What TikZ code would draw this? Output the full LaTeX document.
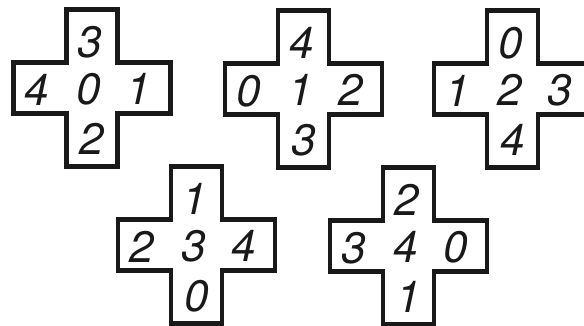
\documentclass[tikz,border=0pt]{standalone}
\usepackage{fontspec}
\setmainfont{TeX Gyre Heros}

\tikzstyle{crossline} = [
line width=4.5pt,
draw=black!90,
line join=miter
]
\tikzstyle{digit} = [
inner sep=0pt,
font=\fontsize{44}{44}\selectfont\itshape,
text=black!90
]

\begin{document}
\begin{tikzpicture}[
x=1pt,
y=-1pt
]
\useasboundingbox (0,0) rectangle (584,325);

% Crosses
\foreach \cx/\cy in {92/88, 303.5/89, 512.5/89, 196.5/245, 408.5/246}
{
\draw [crossline, shift={(\cx,\cy)}]
(-25.5,-78.5) -- (25.5,-78.5) -- (25.5,-25.5) -- (78.5,-25.5)
-- (78.5,25.5) -- (25.5,25.5) -- (25.5,78.5) -- (-25.5,78.5)
-- (-25.5,25.5) -- (-78.5,25.5) -- (-78.5,-25.5) -- (-25.5,-25.5)
-- cycle;
}

% Digits
\foreach \cx/\cy/\t/\w/\m/\e/\b/\k in {
92/88/3/4/0/1/2/a,
303.5/89/4/0/1/2/3/b,
512.5/89/0/1/2/3/4/c,
196.5/245/1/2/3/4/0/d,
408.5/246/2/3/4/0/1/e}
{
\node (mid\k) [digit] at (\cx-3,\cy+1) {\m};
\node (top\k) [digit] at (\cx-2,\cy-46) {\t};
\node (bot\k) [digit] at (\cx,\cy+51) {\b};
\node (left\k) [digit] at (\cx-55,\cy+2) {\w};
\node (right\k) [digit] at (\cx+47,\cy+1) {\e};
}

\end{tikzpicture}
\end{document}
